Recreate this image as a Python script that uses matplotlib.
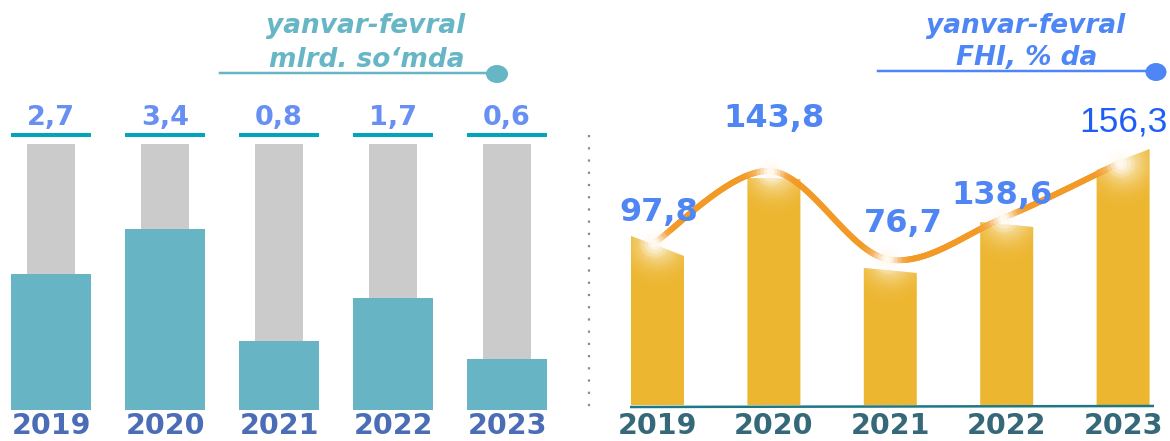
import numpy as np
import matplotlib
matplotlib.use("Agg")
import matplotlib.pyplot as plt
import matplotlib.transforms as mtrans
from matplotlib.collections import LineCollection
from matplotlib.patches import Ellipse, Polygon
from matplotlib.lines import Line2D
from matplotlib.colors import to_rgb

# ---------------- data ----------------
years = ["2019", "2020", "2021", "2022", "2023"]

# left panel: credits, mlrd. so'm (labels) and teal share of the grey column (%)
credit_values = [2.7, 3.4, 0.8, 1.7, 0.6]
credit_share = [51, 68, 26, 42, 19]
grey_full = 100

# right panel: FHI, % (labels), column top levels (left / right edge) and curve levels
fhi_values = [97.8, 143.8, 76.7, 138.6, 156.3]
fhi_bar_left = [169, 227, 137, 183, 235]
fhi_bar_right = [149, 226, 132, 178, 256]
fhi_curve = [162, 234, 146, 187, 242]


def fmt(v):
    return f"{v:.1f}".replace(".", ",")


# ---------------- figure ----------------
W, H = 1170, 441
fig = plt.figure(figsize=(W / 100, H / 100), dpi=100)
fig.patch.set_facecolor("white")
PT = 72 / 100  # points per pixel


def fx(px):
    return px / W


def fy(py):
    return 1 - py / H


NUM_FONT = "DejaVu Sans"
YEAR_BASE = 434

# ================= left panel =================
axL = fig.add_axes([0, 0, 585 / W, 1])
axL.set_axis_off()
L_X0, L_DX = 51, 114.0
L_BASE, L_PPU = 410, 266 / 100
axL.set_xlim((0 - L_X0) / L_DX, (585 - L_X0) / L_DX)
axL.set_ylim((L_BASE - H) / L_PPU, L_BASE / L_PPU)
xl = np.arange(len(years))

axL.bar(xl, [grey_full] * len(years), width=48 / L_DX, color="#cbcbcb",
        linewidth=0, zorder=1)
axL.bar(xl, credit_share, width=80 / L_DX, color="#67b4c5", linewidth=0, zorder=2)

blendL = mtrans.blended_transform_factory(axL.transData, fig.transFigure)
for i, v in enumerate(credit_values):
    axL.plot([i - 40 / L_DX, i + 40 / L_DX], [(L_BASE - 135) / L_PPU] * 2,
             color="#00a5b9", lw=4 * PT, solid_capstyle="butt", zorder=3)
    axL.text(i, fy(125), fmt(v), transform=blendL, ha="center", va="baseline",
             fontsize=19.5, fontweight="bold", color="#6790f2", family=NUM_FONT)
    axL.text(i, fy(YEAR_BASE), years[i], transform=blendL, ha="center", va="baseline",
             fontsize=20.5, fontweight="bold", color="#4a6db5", family=NUM_FONT)

# ================= right panel =================
axR = fig.add_axes([595 / W, 0, 575 / W, 1])
axR.set_axis_off()
R_X0, R_DX = 657.5, 116.4
R_BASE = 405
axR.set_xlim((595 - R_X0) / R_DX, (1170 - R_X0) / R_DX)
axR.set_ylim(R_BASE - H, R_BASE)
blendR = mtrans.blended_transform_factory(axR.transData, fig.transFigure)

BAR_W = 53 / R_DX
cream = np.array(to_rgb("#fbefcf"))
for i in range(len(years)):
    x0, x1 = i - BAR_W / 2, i + BAR_W / 2
    poly = Polygon([(x0, 0), (x0, fhi_bar_left[i]), (x1, fhi_bar_right[i]), (x1, 0)],
                   closed=True, facecolor="#edb630", edgecolor="none", zorder=2)
    axR.add_patch(poly)
    # soft highlight at the top of each column
    top = max(fhi_bar_left[i], fhi_bar_right[i])
    ys = np.linspace(top - 70, top + 5, 90)
    xs = np.linspace(x0, x1, 60)
    XX, YY = np.meshgrid(xs, ys)
    gx, gy = i, fhi_curve[i]
    d = np.hypot((XX - gx) * R_DX, (YY - gy) * 1.0)
    img = np.zeros(XX.shape + (4,))
    img[..., :3] = cream
    img[..., 3] = 0.85 * np.exp(-(d / 22.0) ** 2)
    im = axR.imshow(img, extent=(x0, x1, ys[0], ys[-1]), origin="lower",
                    aspect="auto", zorder=3, interpolation="bilinear")
    im.set_clip_path(poly)

# base line under the columns
axR.plot([(630 - R_X0) / R_DX, (1154 - R_X0) / R_DX], [-2, -1],
         color="#1c7787", lw=2.5 * PT, zorder=4, solid_capstyle="butt")

# smooth curve (Catmull-Rom through the curve levels, drawn as cubic Beziers)
shift = -3.5 / R_DX
P = np.array([[R_X0 + R_DX * (i + shift), fhi_curve[i]] for i in range(len(years))])
Pext = np.vstack([P[0], P, P[-1]])
curve = []
t = np.linspace(0, 1, 80)[:, None]
for k in range(len(P) - 1):
    p0, p3 = Pext[k + 1], Pext[k + 2]
    c1 = p0 + (Pext[k + 2] - Pext[k]) / 6
    c2 = p3 - (Pext[k + 3] - Pext[k + 1]) / 6
    seg = ((1 - t) ** 3) * p0 + 3 * ((1 - t) ** 2) * t * c1 + 3 * (1 - t) * t ** 2 * c2 + t ** 3 * p3
    curve.append(seg if k == 0 else seg[1:])
curve = np.vstack(curve)
dist = np.min(np.hypot(curve[:, None, 0] - P[None, :, 0], curve[:, None, 1] - P[None, :, 1]), axis=1)
w = np.clip(1 - dist / 28.0, 0, 1) ** 1.5
base_c = np.array(to_rgb("#f39a26"))
light_c = np.array(to_rgb("#fbe0c0"))
cols = base_c[None, :] * (1 - w[:, None]) + light_c[None, :] * w[:, None]
cd = np.column_stack([(curve[:, 0] - R_X0) / R_DX, curve[:, 1]])
segs = np.stack([cd[:-1], cd[1:]], axis=1)
lc = LineCollection(segs, colors=cols[:-1], linewidths=6 * PT, capstyle="round",
                    zorder=5)
axR.add_collection(lc)

# glowing points
px_idx = (P[:, 0] - R_X0) / R_DX
for s, a in [(420, 0.18), (220, 0.3), (90, 0.55), (30, 0.9)]:
    axR.scatter(px_idx, P[:, 1], s=s, color="#fffaf0", alpha=a, linewidths=0, zorder=6)

# value labels
label_dx = [0.01, 0.0, 0.11, -0.04, 0.0]
label_base = [221, 127, 232, 204, 132]
for i, v in enumerate(fhi_values):
    if i == len(fhi_values) - 1:
        axR.text(i + label_dx[i], fy(label_base[i]), fmt(v), transform=blendR,
                 ha="center", va="baseline", fontsize=25.5, color="#1d5ef6",
                 family="Liberation Sans", zorder=7)
    else:
        axR.text(i + label_dx[i], fy(label_base[i]), fmt(v), transform=blendR,
                 ha="center", va="baseline", fontsize=23, fontweight="bold",
                 color="#4f86f3", family=NUM_FONT, zorder=7)
    axR.text(i, fy(YEAR_BASE), years[i], transform=blendR, ha="center", va="baseline",
             fontsize=20.5, fontweight="bold", color="#356878", family=NUM_FONT)

# ================= separator & titles =================
fig.add_artist(Line2D([fx(589), fx(589)], [fy(135), fy(416)], transform=fig.transFigure,
                      color="#8a8a8a", lw=1.6, linestyle=(0, (1, 4.5))))

TEAL_T = "#67b6c6"
BLUE_T = "#4f86f5"
fig.text(fx(366), fy(33), "yanvar-fevral", ha="center", va="baseline", fontsize=19,
         fontweight="bold", fontstyle="italic", color=TEAL_T, family=NUM_FONT)
fig.text(fx(367), fy(67), "mlrd. so\u2018mda", ha="center", va="baseline", fontsize=19,
         fontweight="bold", fontstyle="italic", color=TEAL_T, family=NUM_FONT)
fig.add_artist(Line2D([fx(220), fx(495)], [fy(72.5), fy(72.5)], transform=fig.transFigure,
                      color=TEAL_T, lw=2.5 * PT))
fig.add_artist(Ellipse((fx(497), fy(74)), 22 / W, 18 / H, transform=fig.transFigure,
                       facecolor=TEAL_T, edgecolor="none"))

fig.text(fx(1026), fy(33), "yanvar-fevral", ha="center", va="baseline", fontsize=19,
         fontweight="bold", fontstyle="italic", color=BLUE_T, family=NUM_FONT)
fig.text(fx(1027), fy(65), "FHI, % da", ha="center", va="baseline", fontsize=19,
         fontweight="bold", fontstyle="italic", color=BLUE_T, family=NUM_FONT)
fig.add_artist(Line2D([fx(878), fx(1155)], [fy(71), fy(71)], transform=fig.transFigure,
                      color=BLUE_T, lw=2.5 * PT))
fig.add_artist(Ellipse((fx(1156), fy(72)), 21 / W, 18 / H, transform=fig.transFigure,
                       facecolor=BLUE_T, edgecolor="none"))

fig.savefig("out.png", dpi=100, facecolor="white")
